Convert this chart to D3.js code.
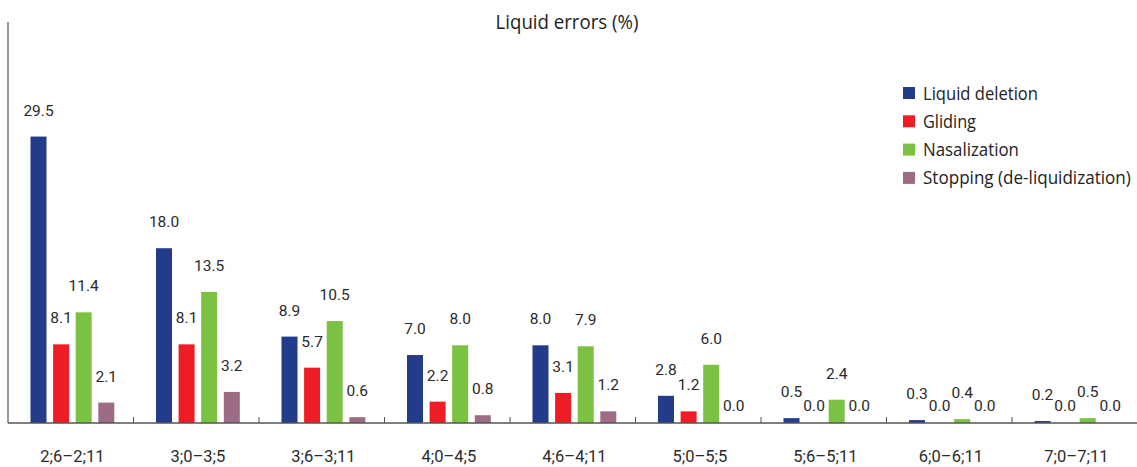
<!DOCTYPE html>
<html>
<head>
<meta charset="utf-8">
<script src="https://cdn.jsdelivr.net/npm/d3@7"></script>
<style>
  html, body { margin: 0; padding: 0; background: #fff; }
  svg { display: block; }
</style>
</head>
<body>
<svg id="chart" width="1137" height="467"></svg>
<script>
// Age groups (years;months)
const ageGroups = ["2;6–2;11", "3;0–3;5", "3;6–3;11", "4;0–4;5", "4;6–4;11", "5;0–5;5", "5;6–5;11", "6;0–6;11", "7;0–7;11"];

// Error types and their shares (%) per age group
const errorTypes = ["Liquid deletion", "Gliding", "Nasalization", "Stopping (de-liquidization)"];
const liquidDeletion = [29.5, 18.0, 8.9, 7.0, 8.0, 2.8, 0.5, 0.3, 0.2];
const gliding        = [8.1, 8.1, 5.7, 2.2, 3.1, 1.2, 0.0, 0.0, 0.0];
const nasalization   = [11.4, 13.5, 10.5, 8.0, 7.9, 6.0, 2.4, 0.4, 0.5];
const stopping       = [2.1, 3.2, 0.6, 0.8, 1.2, 0.0, 0.0, 0.0, 0.0];

const seriesValues = [liquidDeletion, gliding, nasalization, stopping];
const seriesColors = ["#233b8b", "#ee1d25", "#7bc142", "#9d6b86"];
const titleText = "Liquid errors (%)";

const svg = d3.select("#chart");
const left = 8, right = 1137, baseY = 423, topY = 22;

const x0 = d3.scaleBand().domain(ageGroups).range([left, left + 125.5 * ageGroups.length]).padding(0);
const x1 = d3.scaleBand().domain(errorTypes).range([19.2, 109.6]).paddingInner(0.292).paddingOuter(0.146);
const y = d3.scaleLinear().domain([0, 41.3]).range([baseY, topY]);
const color = d3.scaleOrdinal().domain(errorTypes).range(seriesColors);

const rows = [];
ageGroups.forEach((g, i) => {
  errorTypes.forEach((t, j) => rows.push({ group: g, type: t, value: seriesValues[j][i] }));
});

// Condensed text: squeeze a text horizontally to a given width
function condense(sel, width) {
  sel.each(function () {
    const w = this.getComputedTextLength();
    const t = d3.select(this);
    const base = t.attr("data-base");
    t.attr("transform", `${base} scale(${Math.min(1, width / w)},1)`);
  });
}

// Bars
svg.append("g").selectAll("rect").data(rows).join("rect")
  .attr("x", d => x0(d.group) + x1(d.type))
  .attr("y", d => y(d.value))
  .attr("width", x1.bandwidth())
  .attr("height", d => baseY - y(d.value))
  .attr("fill", d => color(d.type));

// Value labels
svg.append("g").selectAll("text").data(rows).join("text")
  .attr("x", d => x0(d.group) + x1(d.type) + x1.bandwidth() / 2)
  .attr("y", d => d.value === 0 ? baseY - 12 : y(d.value) - 21)
  .attr("text-anchor", "middle")
  .attr("font-family", "Roboto, sans-serif")
  .attr("font-size", 15.5)
  .attr("fill", "#2a2a2a")
  .text(d => d.value.toFixed(1));

// Vertical axis line
svg.append("line")
  .attr("x1", left).attr("x2", left)
  .attr("y1", topY).attr("y2", baseY)
  .attr("stroke", "#555").attr("stroke-width", 1.2);

// Horizontal axis with inward ticks at group boundaries
const axisG = svg.append("g");
axisG.append("line")
  .attr("x1", left).attr("x2", right)
  .attr("y1", baseY).attr("y2", baseY)
  .attr("stroke", "#555").attr("stroke-width", 1.5);
axisG.selectAll("line.tick").data(ageGroups.slice(1)).join("line")
  .attr("class", "tick")
  .attr("x1", d => x0(d)).attr("x2", d => x0(d))
  .attr("y1", baseY - 6).attr("y2", baseY)
  .attr("stroke", "#555").attr("stroke-width", 1);

// Category labels, centred under each cluster of bars
const clusterMid = (x1(errorTypes[0]) + x1(errorTypes[errorTypes.length - 1]) + x1.bandwidth()) / 2;
axisG.selectAll("text").data(ageGroups).join("text")
  .attr("x", d => x0(d) + clusterMid)
  .attr("y", 462)
  .attr("text-anchor", "middle")
  .attr("font-family", "Roboto, sans-serif")
  .attr("font-size", 16.5)
  .attr("fill", "#2a2a2a")
  .text(d => d);

// Title
svg.append("text")
  .attr("data-base", "translate(567,29)")
  .attr("text-anchor", "middle")
  .attr("font-family", "'Open Sans', sans-serif")
  .attr("font-size", 20)
  .attr("fill", "#222")
  .text(titleText)
  .call(condense, 143);

// Legend
const legendWidths = [115, 53, 96, 208];
const legend = svg.append("g");
const item = legend.selectAll("g").data(errorTypes).join("g")
  .attr("transform", (d, i) => `translate(903, ${93 + i * 28.3})`);
item.append("rect")
  .attr("x", 0).attr("y", -6).attr("width", 12).attr("height", 12)
  .attr("fill", d => color(d));
item.append("text")
  .attr("data-base", "translate(20,6.5)")
  .attr("font-family", "'Open Sans', sans-serif")
  .attr("font-size", 19)
  .attr("fill", "#222")
  .text(d => d)
  .each(function (d, i) { d3.select(this).call(condense, legendWidths[i]); });
</script>
</body>
</html>
